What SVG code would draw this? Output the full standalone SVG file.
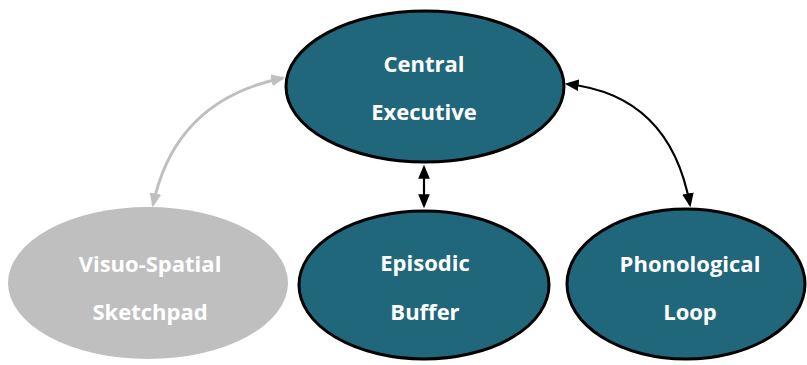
<svg xmlns="http://www.w3.org/2000/svg" width="807" height="365" viewBox="0 0 807 365">
<defs>
<style>
.node{fill:#21677C;stroke:#000;stroke-width:3}
.gray{fill:#BFBFBF;stroke:none}
.lbl{font-family:"Open Sans","Liberation Sans",sans-serif;font-weight:bold;font-size:22px;fill:#fff;text-anchor:middle}
.blk{fill:none;stroke:#000;stroke-width:2.2}
.gry{fill:none;stroke:#BFBFBF;stroke-width:3}
</style>
<marker id="ab" viewBox="0 0 12 10" refX="10" refY="5" markerWidth="14" markerHeight="12" markerUnits="userSpaceOnUse" orient="auto-start-reverse"><path d="M0,0L12,5L0,10z" fill="#000"/></marker>
<marker id="ag" viewBox="0 0 12 10" refX="10" refY="5" markerWidth="14" markerHeight="12" markerUnits="userSpaceOnUse" orient="auto-start-reverse"><path d="M0,0L12,5L0,10z" fill="#BFBFBF"/></marker>
</defs>
<rect width="807" height="365" fill="#fff"/>
<g id="connectors">
<path class="gry" d="M153,205 Q175,100 283,78" marker-start="url(#ag)" marker-end="url(#ag)"/>
<path class="blk" d="M424,167 L424,206" marker-start="url(#ab)" marker-end="url(#ab)"/>
<path class="blk" d="M567,84 Q670,95 690,205" marker-start="url(#ab)" marker-end="url(#ab)"/>
</g>
<g id="central">
<ellipse class="node" cx="425" cy="86.5" rx="139" ry="75.5"/>
<text class="lbl" x="424" y="72">Central</text>
<text class="lbl" x="424" y="120">Executive</text>
</g>
<g id="visuo">
<ellipse class="gray" cx="148" cy="283" rx="140" ry="76"/>
<text class="lbl" x="150" y="272">Visuo-Spatial</text>
<text class="lbl" x="150" y="320">Sketchpad</text>
</g>
<g id="episodic">
<ellipse class="node" cx="424" cy="285" rx="125" ry="74"/>
<text class="lbl" x="425" y="271">Episodic</text>
<text class="lbl" x="425" y="320">Buffer</text>
</g>
<g id="phonological">
<ellipse class="node" cx="686" cy="284" rx="119" ry="75"/>
<text class="lbl" x="690" y="272">Phonological</text>
<text class="lbl" x="690" y="320">Loop</text>
</g>
</svg>
